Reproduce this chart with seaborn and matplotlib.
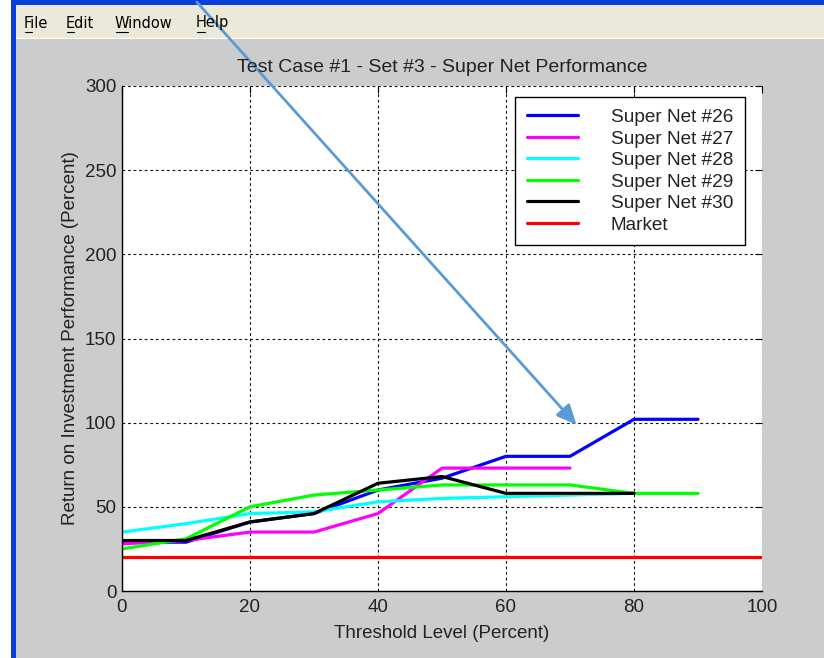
import matplotlib
matplotlib.use("Agg")
import matplotlib.pyplot as plt
import seaborn as sns
import pandas as pd
from matplotlib.patches import Rectangle
from matplotlib.lines import Line2D

# threshold levels (percent)
x_nets = [0, 10, 20, 30, 40, 50, 60, 70, 80, 90]
x_market = [0, 10, 20, 30, 40, 50, 60, 70, 80, 90, 100]

net26 = [29, 29, 41, 46, 60, 67, 80, 80, 102, 102]
net27 = [28, 30, 35, 35, 46, 73, 73, 73]
net28 = [35, 40, 46, 47, 53, 55, 56, 57, 58]
net29 = [25, 31, 50, 57, 60, 63, 63, 63, 58, 58]
net30 = [30, 30, 41, 46, 64, 68, 58, 58, 58]
market = [20, 20, 20, 20, 20, 20, 20, 20, 20, 20, 20]

series_names = ["Super Net #26", "Super Net #27", "Super Net #28",
                "Super Net #29", "Super Net #30", "Market"]
series_values = [net26, net27, net28, net29, net30, market]
colors = ["#0000ff", "#ff00ff", "#00ffff", "#00ff00", "#000000", "#ff0000"]

rows = []
for name, vals in zip(series_names, series_values):
    xs = x_market if name == "Market" else x_nets
    for xv, yv in zip(xs, vals):
        rows.append({"threshold": xv, "roi": yv, "series": name})
df = pd.DataFrame(rows)

sns.set_style("white")
plt.rcParams["font.family"] = ["Liberation Sans", "DejaVu Sans"]

W, H = 824, 658
fig = plt.figure(figsize=(W / 100, H / 100), dpi=100)
fig.patch.set_facecolor("#cccccc")


def px_rect(x0, y0, x1, y1, color):
    # rectangle in image pixel coords (origin top-left)
    fig.add_artist(Rectangle((x0 / W, 1 - y1 / H), (x1 - x0) / W, (y1 - y0) / H,
                             transform=fig.transFigure, facecolor=color,
                             edgecolor="none", zorder=0))


# window chrome
px_rect(0, 0, 11, H, "#ffffff")
px_rect(11, 0, 16, H, "#0a3fd8")
px_rect(11, 0, W, 5, "#0a3fd8")
px_rect(16, 5, W, 38, "#ece9d8")
px_rect(16, 38, W, 39, "#ffffff")

menu = [("File", 24, 7), ("Edit", 66, 7), ("Window", 115, 12), ("Help", 196, 8)]
for label, xp, ul in menu:
    fig.text(xp / W, 1 - 23 / H, label, fontsize=10.5, va="center", ha="left",
             color="#000000", family=["DejaVu Sans"])
    fig.add_artist(Line2D([(xp + 1) / W, (xp + 1 + ul) / W],
                          [1 - 31.5 / H, 1 - 31.5 / H],
                          transform=fig.transFigure, color="#000000",
                          linewidth=0.8))

ax = fig.add_axes([122 / W, 1 - 591 / H, (762 - 122) / W, (591 - 86) / H])
ax.set_facecolor("white")

sns.lineplot(data=df, x="threshold", y="roi", hue="series",
             hue_order=series_names, palette=colors, linewidth=2.3,
             ax=ax, legend=True)

ax.set_xlim(0, 100)
ax.set_ylim(0, 300)
ax.set_xticks([0, 20, 40, 60, 80, 100])
ax.set_yticks([0, 50, 100, 150, 200, 250, 300])
ax.grid(True, color="#111111", linestyle=(0, (2.5, 2.5)), linewidth=0.8)
ax.set_axisbelow(True)
for side in ["top", "right"]:
    ax.spines[side].set_visible(False)
for side in ["left", "bottom"]:
    ax.spines[side].set_color("#000000")
    ax.spines[side].set_linewidth(1.0)
ax.tick_params(direction="in", length=5, width=0.8, top=True, right=True,
               labelsize=13.5, colors="#000000", labelcolor="#222222", pad=6)
ax.tick_params(axis="y", pad=4)

ax.set_title("Test Case #1 - Set #3 - Super Net Performance", fontsize=14,
             color="#222222", pad=10)
ax.set_xlabel("Threshold Level (Percent)", fontsize=13.5, color="#222222",
              labelpad=6)
ax.set_ylabel("Return on Investment Performance (Percent)", fontsize=13.5,
              color="#222222")

handles, labels = ax.get_legend_handles_labels()
leg = ax.legend(handles, labels, loc="upper right",
                bbox_to_anchor=(745 / W, 1 - 97 / H),
                bbox_transform=fig.transFigure, borderaxespad=0,
                fontsize=13.7, frameon=True, fancybox=False, framealpha=1,
                edgecolor="#000000", handlelength=2.65, handletextpad=1.75,
                labelspacing=0.22, borderpad=0.62)
leg.get_frame().set_linewidth(1.0)
for text in leg.get_texts():
    text.set_color("#222222")
for line in leg.get_lines():
    line.set_linewidth(2.3)

# arrow overlay pointing at Super Net #26
ax.annotate("", xy=(71.3, 97.5), xycoords="data",
            xytext=(195 / W, 1.0), textcoords="figure fraction",
            arrowprops=dict(arrowstyle="-|>,head_length=1.2,head_width=0.55",
                            color="#5b9bd5", linewidth=2),
            annotation_clip=False)

fig.savefig("out.png", dpi=100, facecolor=fig.get_facecolor())
